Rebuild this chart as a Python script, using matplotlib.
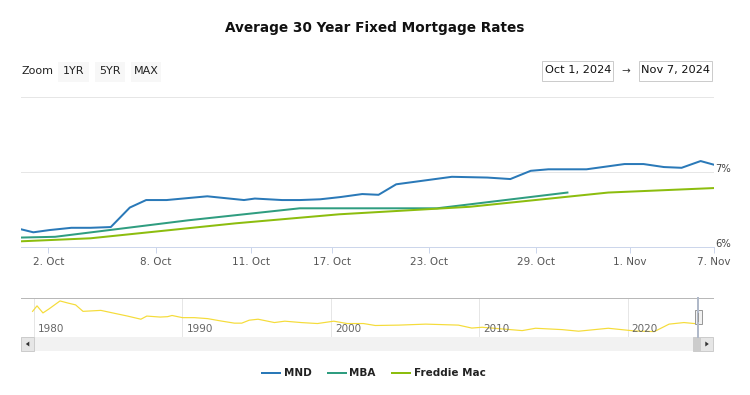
import matplotlib
matplotlib.use("Agg")
import matplotlib.pyplot as plt
from matplotlib.patches import Rectangle, Polygon
from matplotlib.transforms import ScaledTranslation, blended_transform_factory

# ---------------- data ----------------
# x positions are ordinal axis positions (Highcharts ordinal axis), 0 = 1 Oct, 51 = 7 Nov
mnd_pos = [0.0, 0.9, 2.1, 3.7, 5.1, 6.6, 8.0, 9.2, 10.7, 13.7, 16.4, 17.2, 18.2, 19.2,
           20.5, 22.0, 23.5, 25.1, 26.3, 27.6, 31.7, 34.3, 36.0, 37.5, 38.8, 41.6,
           44.4, 45.8, 47.3, 48.6, 50.0, 51.0]
mnd_rate = [6.24, 6.20, 6.23, 6.26, 6.26, 6.27, 6.53, 6.63, 6.63, 6.68, 6.63, 6.65, 6.64, 6.63,
            6.63, 6.64, 6.67, 6.71, 6.70, 6.84, 6.94, 6.93, 6.91, 7.02, 7.04, 7.04,
            7.11, 7.11, 7.07, 7.06, 7.15, 7.10]
mba_pos = [0.0, 2.5, 12.3, 20.5, 30.6, 40.2]
mba_rate = [6.13, 6.14, 6.36, 6.52, 6.52, 6.73]
fm_pos = [0.0, 5.1, 15.8, 23.4, 33.0, 43.2, 51.0]
fm_rate = [6.08, 6.12, 6.32, 6.44, 6.54, 6.73, 6.79]

tick_pos = [2.0, 9.9, 16.9, 22.9, 30.0, 37.9, 44.8, 51.0]
tick_labels = ["2. Oct", "8. Oct", "11. Oct", "17. Oct", "23. Oct", "29. Oct", "1. Nov", "7. Nov"]
y_ticks = [6, 7, 8]
y_tick_labels = ["6%", "7%", ""]

series_names = ["MND", "MBA", "Freddie Mac"]
series_colors = ["#2a79b8", "#2f9d80", "#8cbd0e"]

# navigator (long history)
nav_year = [1979.9, 1980.2, 1980.6, 1981.0, 1981.75, 1982.3, 1982.8, 1983.3, 1984.5, 1985.3,
            1986.3, 1987.2, 1987.6, 1988.5, 1989.0, 1989.3, 1990.0, 1990.8, 1991.7, 1992.6,
            1993.5, 1994.0, 1994.5, 1995.1, 1996.2, 1996.9, 1998.0, 1999.1, 2000.2, 2001.1,
            2002.2, 2003.0, 2004.6, 2006.4, 2008.6, 2009.5, 2010.2, 2012.9, 2013.8, 2015.6,
            2016.7, 2018.7, 2020.5, 2021.8, 2022.8, 2023.8, 2024.5, 2024.85]
nav_rate = [13.1, 15.9, 12.3, 14.3, 18.4, 17.3, 16.4, 13.1, 13.6, 12.3,
            10.7, 9.1, 10.7, 10.2, 10.4, 11.0, 9.9, 9.9, 9.4, 8.2,
            7.1, 7.1, 8.6, 9.1, 7.4, 8.1, 7.4, 6.9, 8.1, 6.9,
            6.9, 5.9, 6.1, 6.6, 6.1, 4.6, 5.0, 3.3, 4.5, 3.8,
            3.0, 4.5, 3.1, 2.8, 6.6, 7.4, 6.9, 6.8]
nav_decades = [1980, 1990, 2000, 2010, 2020]

# ---------------- figure ----------------
W, H = 750, 395
DPI = 100
plt.rcParams['font.family'] = ['DejaVu Sans']
fig = plt.figure(figsize=(W / DPI, H / DPI), dpi=DPI)


def rect(x0, y0, x1, y1):
    return [x0 / W, 1 - y1 / H, (x1 - x0) / W, (y1 - y0) / H]


px = 72.0 / DPI  # points per pixel

# ---- main chart ----
ax = fig.add_axes(rect(21.1, 97.3, 714.2, 247.3))
lines = []
for pos, rate, name, col in zip([mnd_pos, mba_pos, fm_pos], [mnd_rate, mba_rate, fm_rate],
                                series_names, series_colors):
    ln, = ax.plot(pos, rate, color=col, lw=2 * px, label=name, solid_joinstyle='round', zorder=3)
    lines.append(ln)
ax.set_xlim(0, 51.0)
ax.set_ylim(6, 8)
for s in ['top', 'left', 'right']:
    ax.spines[s].set_visible(False)
ax.spines['bottom'].set_color('#ccd6eb')
ax.spines['bottom'].set_linewidth(1 * px)
ax.set_xticks(tick_pos)
ax.set_xticklabels(tick_labels)
ax.tick_params(axis='x', direction='out', length=6 * px, width=1 * px, color='#ccd6eb',
               labelcolor='#555555', labelsize=7.5, pad=3)
ax.yaxis.tick_right()
ax.set_yticks(y_ticks)
ax.set_yticklabels(y_tick_labels)
ax.tick_params(axis='y', length=0, pad=1, labelcolor='#444444', labelsize=7.2)
for lab in ax.get_yticklabels():
    lab.set_transform(lab.get_transform() + ScaledTranslation(0, 4 / DPI, fig.dpi_scale_trans))
ax.grid(axis='y', color='#e6e6e6', lw=1 * px)
ax.set_axisbelow(True)

# ---- title ----
fig.text(375 / W, 1 - 28 / H, "Average 30 Year Fixed Mortgage Rates", ha='center', va='center',
         fontsize=9.8, fontweight='bold', color='#111111')

# ---- navigator ----
nav = fig.add_axes(rect(20.7, 298, 713.3, 336.7))
nav.plot(nav_year, nav_rate, color='#f5dc3a', lw=1.2 * px, zorder=3)
nav.set_xlim(1979.10, 2025.78)
nav.set_ylim(0.2, 19.9)
for s in ['left', 'right', 'bottom']:
    nav.spines[s].set_visible(False)
nav.spines['top'].set_color('#b8b8b8')
nav.spines['top'].set_linewidth(1 * px)
nav.set_yticks([])
nav.set_xticks(nav_decades)
nav.set_xticklabels([])
nav.tick_params(axis='x', length=0)
nav.grid(axis='x', color='#e6e6e6', lw=1 * px)
nav.set_axisbelow(True)
tr = blended_transform_factory(nav.transData, nav.transAxes) + ScaledTranslation(4 / DPI, 0, fig.dpi_scale_trans)
for d in nav_decades:
    nav.text(d, 0.2, str(d), transform=tr, ha='left', va='center', fontsize=7.5, color='#666666')

# ---- UI chrome overlay (buttons, inputs, scrollbar, handle) ----
ui = fig.add_axes([0, 0, 1, 1])
ui.set_xlim(0, W)
ui.set_ylim(H, 0)
ui.axis('off')
ui.set_zorder(5)

ui.text(21, 71.5, "Zoom", ha='left', va='center', fontsize=8, color='#222222')
for x0, x1, lab in [(58.3, 89.3, "1YR"), (95, 125, "5YR"), (130.7, 161, "MAX")]:
    ui.add_patch(Rectangle((x0, 61.7), x1 - x0, 20, facecolor='#f7f7f7', edgecolor='none'))
    ui.text((x0 + x1) / 2, 71.5, lab, ha='center', va='center', fontsize=8, color='#222222')

for x0, x1, lab in [(542.3, 613.3, "Oct 1, 2024"), (639, 712.3, "Nov 7, 2024")]:
    ui.add_patch(Rectangle((x0, 60.5), x1 - x0, 20, facecolor='white', edgecolor='#cccccc', lw=1 * px))
    ui.text((x0 + x1) / 2, 70.5, lab, ha='center', va='center', fontsize=8.2, color='#111111')
ui.text(626, 71, "\u2192", ha='center', va='center', fontsize=7.5, color='#333333')

# scrollbar
ui.add_patch(Rectangle((20.7, 336.7), 692.6, 14.3, facecolor='#f2f2f2', edgecolor='none'))
ui.add_patch(Rectangle((20.7, 336.7), 13.6, 14.3, facecolor='#e6e6e6', edgecolor='#cccccc', lw=1 * px))
ui.add_patch(Rectangle((700, 336.7), 13.3, 14.3, facecolor='#e6e6e6', edgecolor='#cccccc', lw=1 * px))
ui.add_patch(Rectangle((693.3, 336.7), 6.7, 14.3, facecolor='#cccccc', edgecolor='#cccccc', lw=1 * px))
ui.add_patch(Polygon([(29.3, 341.5), (29.3, 346.5), (25.8, 344)], closed=True, facecolor='#333333', edgecolor='none'))
ui.add_patch(Polygon([(705.3, 341.5), (705.3, 346.5), (708.8, 344)], closed=True, facecolor='#333333', edgecolor='none'))

# navigator handle
ui.plot([698.3, 698.3], [298, 336.7], color='#b0b9c9', lw=2 * px)
ui.add_patch(Rectangle((694.7, 309.7), 7.3, 14.6, facecolor='#f2f2f2', edgecolor='#999999', lw=1 * px))
ui.plot([698.3, 698.3], [313, 321], color='#999999', lw=1 * px)

# ---- legend ----
fig.legend(handles=lines, labels=series_names, loc='center', bbox_to_anchor=(374 / W, 1 - 373.3 / H),
           ncol=3, frameon=False, prop={'weight': 'bold', 'size': 7.5}, handlelength=1.7,
           handletextpad=0.35, columnspacing=1.6, labelcolor='#222222')

fig.savefig("out.png", dpi=DPI)
